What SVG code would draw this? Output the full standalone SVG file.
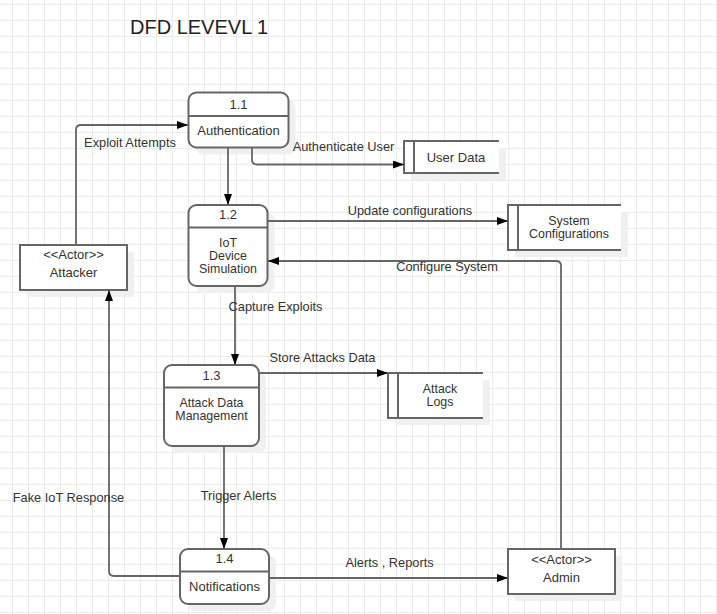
<svg xmlns="http://www.w3.org/2000/svg" width="717" height="614" viewBox="0 0 717 614">
<defs>
<pattern id="grid" x="12" y="4" width="16" height="16" patternUnits="userSpaceOnUse">
<rect x="0" y="0" width="1" height="16" fill="#ebebeb"/>
<rect x="0" y="0" width="16" height="1" fill="#ebebeb"/>
</pattern>
<marker id="arr" viewBox="0 0 11 8" refX="11" refY="4" markerWidth="11" markerHeight="8" markerUnits="userSpaceOnUse" orient="auto">
<path d="M0,0 L11,4 L0,8 z" fill="#000"/>
</marker>
</defs>
<style>
.shadow{fill:#f0f0f0;stroke:none}
.box{fill:#fff;stroke:#666;stroke-width:2}
.ln{fill:none;stroke:#666;stroke-width:2}
.edge{fill:none;stroke:#666;stroke-width:1.8;marker-end:url(#arr)}
text{font-family:"Liberation Sans",Arial,sans-serif;font-size:13px;fill:#333;text-anchor:middle}
.ml{font-size:12.4px}
.lbl{font-size:12.8px}
.title{font-size:20px;fill:#222;text-anchor:start}
</style>
<rect width="717" height="614" fill="#fff"/>
<rect width="717" height="614" fill="url(#grid)"/>

<text class="title" x="130" y="34">DFD LEVEVL 1</text>

<g id="p11">
<rect class="shadow" x="195.5" y="99.5" width="100" height="55" rx="8"/>
<rect class="box" x="188.5" y="92.5" width="100" height="55" rx="8"/>
<line class="ln" x1="188.5" y1="116" x2="288.5" y2="116"/>
<text x="238.5" y="108.5">1.1</text>
<text x="238.5" y="135">Authentication</text>
</g>

<g id="datastore-userdata">
<rect class="shadow" x="411" y="148" width="95" height="32"/>
<rect x="404" y="141" width="95" height="32" fill="#fff"/>
<path class="ln" d="M499 141 H404 V173 H499 M414 141 V173"/>
<text x="456" y="161.5">User Data</text>
</g>

<g id="p12">
<rect class="shadow" x="195.5" y="212" width="79" height="81" rx="8"/>
<rect class="box" x="188.5" y="205" width="79" height="81" rx="8"/>
<line class="ln" x1="188.5" y1="227.5" x2="267.5" y2="227.5"/>
<text x="228" y="219">1.2</text>
<text class="ml" x="228" y="246.5">IoT</text>
<text class="ml" x="228" y="259.5">Device</text>
<text class="ml" x="228" y="272.5">Simulation</text>
</g>

<g id="datastore-sysconfig">
<rect class="shadow" x="515" y="212" width="113" height="45"/>
<rect x="508" y="205" width="113" height="45" fill="#fff"/>
<path class="ln" d="M621 205 H508 V250 H621 M518 205 V250"/>
<text class="ml" x="569" y="224.5">System</text>
<text class="ml" x="569" y="237.5">Configurations</text>
</g>

<g id="attacker">
<rect class="shadow" x="27" y="252" width="107" height="45"/>
<rect class="box" x="20" y="245" width="107" height="45"/>
<text x="73.5" y="259">&lt;&lt;Actor&gt;&gt;</text>
<text x="73.5" y="277">Attacker</text>
</g>

<g id="p13">
<rect class="shadow" x="171" y="372" width="95" height="81" rx="8"/>
<rect class="box" x="164" y="365" width="95" height="81" rx="8"/>
<line class="ln" x1="164" y1="387.5" x2="259" y2="387.5"/>
<text x="211.5" y="379.5">1.3</text>
<text class="ml" x="211.5" y="407">Attack Data</text>
<text class="ml" x="211.5" y="420">Management</text>
</g>

<g id="datastore-attacklogs">
<rect class="shadow" x="395" y="380" width="95" height="45"/>
<rect x="388" y="373" width="95" height="45" fill="#fff"/>
<path class="ln" d="M483 373 H388 V418 H483 M398 373 V418"/>
<text class="ml" x="440" y="392.5">Attack</text>
<text class="ml" x="440" y="405.5">Logs</text>
</g>

<g id="p14">
<rect class="shadow" x="187" y="556" width="89" height="55" rx="8"/>
<rect class="box" x="180" y="549" width="89" height="55" rx="8"/>
<line class="ln" x1="180" y1="571.5" x2="269" y2="571.5"/>
<text x="224.5" y="563">1.4</text>
<text x="224.5" y="590.5">Notifications</text>
</g>

<g id="admin">
<rect class="shadow" x="515" y="556" width="107" height="45"/>
<rect class="box" x="508" y="549" width="107" height="45"/>
<text x="561.5" y="563.5">&lt;&lt;Actor&gt;&gt;</text>
<text x="561.5" y="582">Admin</text>
</g>

<g id="connectors">
<path class="edge" d="M76 245 V130 Q76 125 81 125 H188"/>
<path class="edge" d="M228 148 V205"/>
<path class="edge" d="M252 148 V159.5 Q252 164.5 257 164.5 H404"/>
<path class="edge" d="M268 221 H508"/>
<path class="edge" d="M561 549 V266 Q561 261 556 261 H268"/>
<path class="edge" d="M235 286 V365"/>
<path class="edge" d="M259 373 H388"/>
<path class="edge" d="M224 446 V549"/>
<path class="edge" d="M180 576 H114 Q109 576 109 571 V290"/>
<path class="edge" d="M269 578 H508"/>
<text class="lbl" x="130" y="147">Exploit Attempts</text>
<text class="lbl" x="343.5" y="151">Authenticate User</text>
<text class="lbl" x="410" y="215">Update configurations</text>
<text class="lbl" x="447" y="271">Configure System</text>
<text class="lbl" x="275.5" y="311">Capture Exploits</text>
<text class="lbl" x="322.5" y="362">Store Attacks Data</text>
<text class="lbl" x="238.5" y="500">Trigger Alerts</text>
<text class="lbl" x="68.5" y="502">Fake IoT Response</text>
<text class="lbl" x="389.5" y="567">Alerts , Reports</text>
</g>
</svg>
